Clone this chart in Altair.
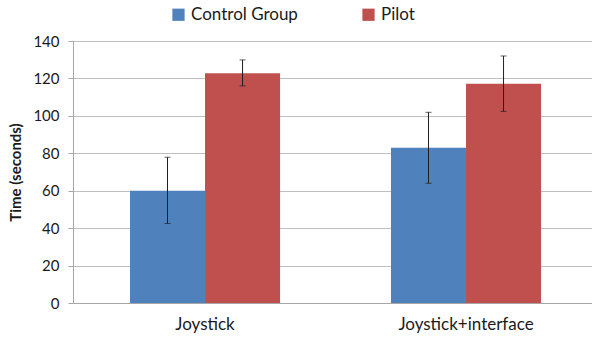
import altair as alt
import pandas as pd

categories = ["Joystick", "Joystick", "Joystick+interface", "Joystick+interface"]
groups = ["Control Group", "Pilot", "Control Group", "Pilot"]
means = [60.0, 122.8, 83.0, 117.2]
err_low = [42.5, 116.0, 64.0, 102.4]
err_high = [77.9, 129.9, 101.9, 132.0]
y_ticks = [0, 20, 40, 60, 80, 100, 120, 140]

df = pd.DataFrame({"cat": categories, "grp": groups, "mean": means,
                   "lo": err_low, "hi": err_high})

FONT = "Lato"
x = alt.X("cat:N", title=None,
          scale=alt.Scale(paddingInner=0.425, paddingOuter=0.2068, align=0.528),
          axis=alt.Axis(labelAngle=0, labelFontSize=17, labelColor="#1a1a1a",
                        labelPadding=13, ticks=False, domainColor="#a6a6a6",
                        labelFont=FONT))
xo = alt.XOffset("grp:N", sort=["Control Group", "Pilot"])

yscale = alt.Scale(domain=[0, 140], nice=False)
yaxis = alt.Axis(values=y_ticks, tickCount=10, labelFontSize=15, labelOverlap=False,
                 labelColor="#1a1a1a", labelFont=FONT,
                 titleFont=FONT, titleFontSize=15, titleFontWeight="bold",
                 titleColor="#1a1a1a", titlePadding=9,
                 domain=True, domainColor="#a6a6a6",
                 ticks=True, tickSize=5, tickColor="#a6a6a6",
                 gridColor="#bfbfbf", labelPadding=9)

bars = alt.Chart(df).mark_bar().encode(
    x=x, xOffset=xo,
    y=alt.Y("mean:Q", title="Time (seconds)", scale=yscale, axis=yaxis),
    color=alt.Color("grp:N", title=None,
                    scale=alt.Scale(domain=["Control Group", "Pilot"],
                                    range=["#4f81bd", "#c0504d"]),
                    legend=alt.Legend(orient="none", direction="horizontal",
                                      legendX=97, legendY=-35, symbolType="square",
                                      symbolSize=150, symbolStrokeWidth=0,
                                      labelFontSize=17, labelFont=FONT,
                                      labelColor="#1a1a1a", columnPadding=62,
                                      labelOffset=4)),
)

rules = alt.Chart(df).mark_rule(color="#1f1f1f", strokeWidth=1).encode(
    x=x, xOffset=xo,
    y=alt.Y("lo:Q", title="Time (seconds)", scale=yscale, axis=yaxis), y2="hi:Q")
cap_lo = alt.Chart(df).mark_tick(color="#1f1f1f", size=6, thickness=1).encode(
    x=x, xOffset=xo, y=alt.Y("lo:Q", title="Time (seconds)", scale=yscale, axis=yaxis))
cap_hi = alt.Chart(df).mark_tick(color="#1f1f1f", size=6, thickness=1).encode(
    x=x, xOffset=xo, y=alt.Y("hi:Q", title="Time (seconds)", scale=yscale, axis=yaxis))

chart = alt.layer(bars, rules, cap_lo, cap_hi).properties(
    width=519, height=262,
    autosize=alt.AutoSizeParams(type="none"),
    padding={"left": 73, "top": 41, "right": 0, "bottom": 46},
).configure_view(stroke=None).configure_scale(bandPaddingInner=0.425)

chart.save("out.html", embed_options={"renderer": "svg", "actions": False})
